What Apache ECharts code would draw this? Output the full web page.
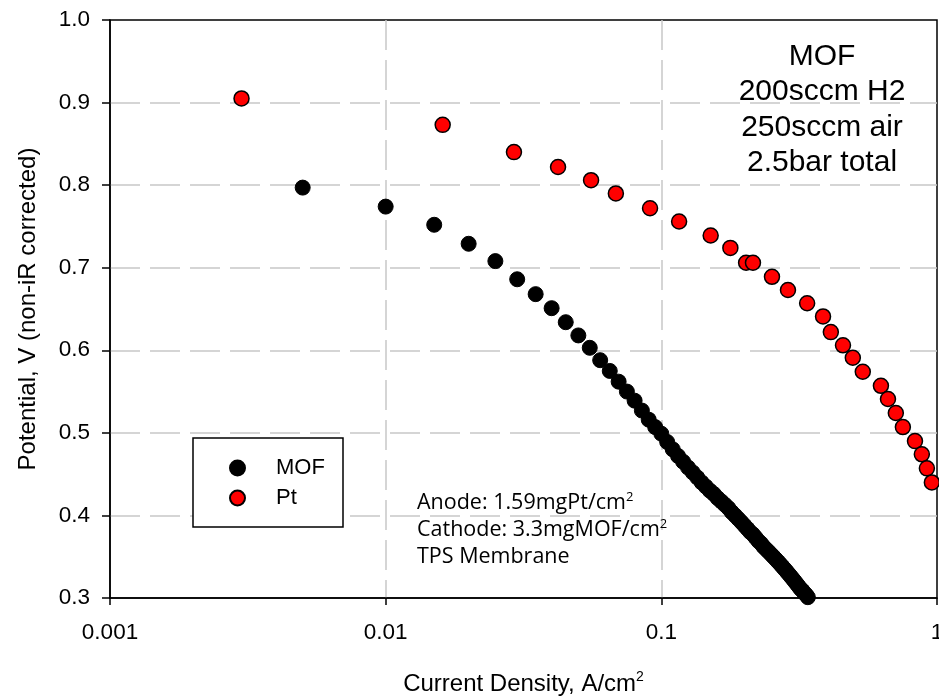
<!DOCTYPE html>
<html>
<head>
<meta charset="utf-8">
<script src="https://cdn.jsdelivr.net/npm/echarts@6/dist/echarts.min.js"></script>
<style>
html,body{margin:0;padding:0;background:#fff;}
#chart{width:939px;height:697px;}
</style>
</head>
<body>
<div id="chart"></div>
<script>
// Current density (A/cm2) and potential (V)
const mofCurrent = [0.005,0.01,0.015,0.02,0.025,0.03,0.035,0.04,0.045,0.05,0.055,0.06,0.065,0.07,0.075,0.08,0.085,0.09,0.095,
  0.100,0.105,0.110,0.115,0.120,0.125,0.130,0.135,0.140,0.145,0.150,0.155,0.160,0.165,0.170,0.175,0.180,0.185,0.190,0.195,
  0.200,0.205,0.210,0.215,0.220,0.225,0.230,0.235,0.240,0.245,0.250,0.255,0.260,0.265,0.270,0.275,0.280,0.285,0.290,0.295,
  0.300,0.305,0.310,0.315,0.320,0.325,0.330,0.335,0.340];
const mofPotential = [0.797,0.774,0.752,0.729,0.708,0.686,0.668,0.651,0.634,0.618,0.603,0.588,0.575,0.562,0.550,0.539,0.527,0.516,0.507,
  0.499,0.489,0.480,0.472,0.465,0.458,0.452,0.446,0.440,0.435,0.430,0.426,0.421,0.417,0.413,0.409,0.404,0.400,0.396,0.392,
  0.388,0.384,0.380,0.377,0.373,0.369,0.366,0.362,0.359,0.356,0.353,0.350,0.347,0.344,0.341,0.338,0.335,0.332,0.329,0.326,
  0.323,0.320,0.317,0.314,0.311,0.309,0.306,0.304,0.301];
const ptCurrent = [0.003,0.0161,0.0292,0.0422,0.0556,0.0684,0.091,0.116,0.151,0.178,0.203,0.215,0.252,0.288,0.338,0.386,
  0.412,0.456,0.495,0.538,0.626,0.664,0.709,0.752,0.832,0.881,0.919,0.958];
const ptPotential = [0.905,0.873,0.840,0.822,0.806,0.790,0.772,0.756,0.739,0.724,0.706,0.706,0.689,0.673,0.657,0.641,
  0.622,0.606,0.591,0.574,0.557,0.541,0.524,0.507,0.490,0.474,0.457,0.440];
const xTickLabels = {0.001:'0.001',0.01:'0.01',0.1:'0.1',1:'1'};
const seriesNames = ['MOF','Pt'];
const conditionLines = ['MOF','200sccm H2','250sccm air','2.5bar total'];

const chart = echarts.init(document.getElementById('chart'), null, {renderer:'canvas'});
const pair = (xs, ys) => xs.map((x,i)=>[x, ys[i]]);
const tickFont = 'Liberation Sans, Arial, sans-serif';

const graphics = [
  {type:'rect', shape:{x:193,y:438,width:150,height:89}, style:{fill:'#fff',stroke:'#000',lineWidth:1.5}, z:50},
];
const condY = [57,92,128,163];
conditionLines.forEach((t,i)=>{
  graphics.push({type:'text', x:822, y:condY[i], style:{text:t, font:'30px "Liberation Sans", Arial, sans-serif', fill:'#000', textAlign:'center', textVerticalAlign:'middle'}, z:60});
});
const annoFont = '"Open Sans", Lato, sans-serif';
const annoRich = {a:{fontFamily:annoFont,fontSize:21.5,fill:'#000'}, s:{fontFamily:annoFont,fontSize:13,fill:'#000',padding:[0,0,11,0]}};
graphics.push({type:'text', x:417, y:503, style:{text:'{a|Anode: 1.59mgPt/cm}{s|2}', textVerticalAlign:'middle', rich:annoRich}, z:60});
graphics.push({type:'text', x:417, y:530, style:{text:'{a|Cathode: 3.3mgMOF/cm}{s|2}', textVerticalAlign:'middle', rich:annoRich}, z:60});
graphics.push({type:'text', x:417, y:557, style:{text:'TPS Membrane', textVerticalAlign:'middle', font:'21.5px "Open Sans", Lato, sans-serif', fill:'#000'}, z:60});

const option = {
  animation:false,
  backgroundColor:'#fff',
  grid:{left:110,right:2,top:20,bottom:99,show:true,borderColor:'#000',borderWidth:1.5,backgroundColor:'transparent',
    containLabel:false, outerBoundsMode:'none'},
  xAxis:{
    type:'log', logBase:10, min:0.001, max:1,
    name:'{a|Current Density, A/cm}{s|2}', nameLocation:'middle', nameGap:72,
    nameTextStyle:{rich:{a:{fontFamily:tickFont,fontSize:24,color:'#000'}, s:{fontFamily:tickFont,fontSize:14,color:'#000',padding:[0,0,14,0]}}},
    axisLine:{show:true,onZero:false,lineStyle:{color:'#000',width:1.5}},
    axisTick:{show:true,inside:false,length:7,lineStyle:{color:'#000',width:1.5}},
    minorTick:{show:false},
    axisLabel:{fontFamily:tickFont,fontSize:22.5,color:'#000',margin:23,formatter:v=>xTickLabels[v]!==undefined?xTickLabels[v]:(+v).toString()},
    splitLine:{show:true,showMinLine:false,showMaxLine:false,lineStyle:{color:'#c8c8c8',width:1.5,type:[30,10]}}
  },
  yAxis:{
    type:'value', min:0.3, max:1.0, interval:0.1,
    name:'Potential, V (non-iR corrected)', nameLocation:'middle', nameGap:70,
    nameTextStyle:{fontFamily:tickFont,fontSize:24,color:'#000'},
    axisLine:{show:true,onZero:false,lineStyle:{color:'#000',width:1.5}},
    axisTick:{show:true,inside:false,length:8,lineStyle:{color:'#000',width:1.5}},
    axisLabel:{fontFamily:tickFont,fontSize:22.5,color:'#000',margin:20,formatter:v=>v.toFixed(1)},
    splitLine:{show:true,showMinLine:false,showMaxLine:false,lineStyle:{color:'#c8c8c8',width:1.5,type:[30,10]}}
  },
  legend:{
    orient:'vertical', left:229, top:457, padding:0, itemGap:8, itemWidth:15, itemHeight:15, z:70,
    data:[{name:seriesNames[0],icon:'circle'},{name:seriesNames[1],icon:'circle'}],
    textStyle:{fontFamily:tickFont,fontSize:22,color:'#000',lineHeight:22,padding:[0,0,0,26]}
  },
  series:[
    {name:seriesNames[0], type:'scatter', symbol:'circle', symbolSize:15, data:pair(mofCurrent,mofPotential),
      itemStyle:{color:'#000',borderColor:'#000',borderWidth:1,opacity:1}, z:10},
    {name:seriesNames[1], type:'scatter', symbol:'circle', symbolSize:15, data:pair(ptCurrent,ptPotential),
      itemStyle:{color:'#ff0000',borderColor:'#000',borderWidth:1.5,opacity:1}, z:11}
  ],
  graphic:graphics
};
chart.setOption(option);
</script>
</body>
</html>
